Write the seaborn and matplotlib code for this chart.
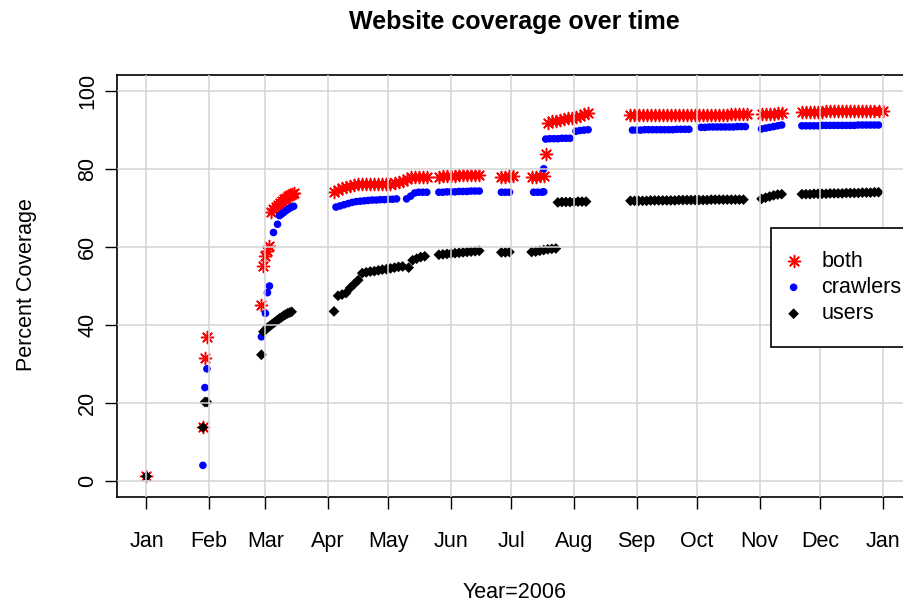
import seaborn as sns
import matplotlib.pyplot as plt

# day of year 2006 (0 = Jan 1) and percent coverage
both_days = [0, 28, 29, 30,
             57, 58, 59, 60, 61, 62, 63, 64, 65, 66, 67, 68, 69, 70, 71, 72, 73,
             93, 95, 97, 99, 101, 103, 105, 107, 109, 111, 113, 115, 117, 119, 121, 123,
             125, 127, 129, 131, 133, 135, 137, 139,
             145, 147, 149, 151, 153, 155, 157, 159, 161, 163, 165,
             176, 178, 180, 182, 191, 193, 195, 197, 198,
             199, 201, 203, 205, 207, 209, 211, 213, 215, 217, 219,
             240, 242, 244, 246, 248, 250, 252, 254, 256, 258, 260, 262, 264, 266, 268,
             270, 272, 274, 276, 278, 280, 282, 284, 286, 288, 290, 292, 294, 296, 298,
             305, 307, 309, 311, 313, 315,
             325, 327, 329, 331, 333, 335, 337, 339, 341, 343, 345, 347, 349, 351, 353,
             355, 357, 359, 361, 363, 365]
both_vals = [1.3, 14.0, 31.5, 37.0,
             45.2, 55.0, 57.6, 59.0, 60.3, 69.0, 69.7, 70.3, 70.8, 71.3, 71.8, 72.2, 72.6, 73.0, 73.3, 73.6, 73.8,
             74.0, 74.5, 75.0, 75.4, 75.7, 75.9, 76.0, 76.0, 76.0, 76.1, 76.1, 76.1, 76.1, 76.2, 76.2, 76.3,
             76.5, 76.8, 77.4, 77.9, 78.0, 78.0, 78.0, 78.0,
             78.0, 78.1, 78.1, 78.2, 78.2, 78.3, 78.3, 78.4, 78.4, 78.5, 78.5,
             78.0, 78.0, 78.1, 78.1, 78.0, 78.0, 78.1, 78.2, 83.8,
             91.8, 92.1, 92.3, 92.6, 92.8, 93.0, 93.1, 93.3, 93.6, 93.9, 94.2,
             93.7, 93.7, 93.7, 93.7, 93.7, 93.7, 93.7, 93.7, 93.7, 93.7, 93.7, 93.7, 93.7, 93.7, 93.7,
             93.7, 93.8, 93.8, 93.8, 93.8, 93.8, 93.8, 93.8, 93.8, 93.8, 93.9, 93.9, 93.9, 94.0, 94.0,
             94.0, 94.0, 94.1, 94.1, 94.2, 94.2,
             94.6, 94.6, 94.6, 94.6, 94.6, 94.6, 94.7, 94.7, 94.7, 94.7, 94.7, 94.7, 94.7, 94.7, 94.7,
             94.8, 94.8, 94.8, 94.8, 94.8, 94.8]

crawl_days = [0, 28, 29, 30,
              57, 59, 60, 61, 63, 65, 66, 67, 68, 69, 70, 71, 72, 73,
              94, 96, 98, 100, 102, 104, 106, 108, 110, 112, 114, 116, 118, 120, 122, 124,
              129, 131, 133, 135, 137, 139,
              145, 147, 149, 151, 153, 155, 157, 159, 161, 163, 165,
              176, 178, 180, 192, 194, 196, 197, 197,
              198, 200, 202, 204, 206, 208, 210, 213, 215, 217, 219,
              241, 243, 245, 247, 249, 251, 253, 255, 257, 259, 261, 263, 265, 267, 269,
              275, 277, 279, 281, 283, 285, 287, 289, 291, 293, 295, 297,
              305, 307, 309, 311, 313, 315,
              325, 327, 329, 331, 333, 335, 337, 339, 341, 343, 345, 347, 349, 351, 353,
              355, 357, 359, 361, 363]
crawl_vals = [1.3, 4.1, 24.0, 28.8,
              37.0, 43.0, 48.3, 50.0, 63.7, 65.8, 68.0, 68.4, 68.8, 69.2, 69.6, 69.9, 70.2, 70.4,
              70.2, 70.5, 70.8, 71.1, 71.4, 71.6, 71.7, 71.8, 71.9, 72.0, 72.0, 72.1, 72.1, 72.2, 72.2, 72.3,
              72.3, 73.0, 73.8, 74.0, 74.0, 74.0,
              74.0, 74.0, 74.1, 74.1, 74.1, 74.2, 74.2, 74.2, 74.3, 74.3, 74.3,
              74.0, 74.0, 74.0, 74.0, 74.0, 74.0, 74.1, 80.0,
              87.6, 87.7, 87.7, 87.7, 87.8, 87.8, 87.8, 89.6, 89.8, 89.9, 90.0,
              89.9, 89.9, 89.9, 90.0, 90.0, 90.0, 90.0, 90.0, 90.0, 90.0, 90.0, 90.1, 90.1, 90.1, 90.1,
              90.6, 90.6, 90.7, 90.7, 90.7, 90.7, 90.7, 90.7, 90.7, 90.8, 90.8, 90.8,
              90.2, 90.4, 90.6, 90.8, 91.0, 91.2,
              91.0, 91.0, 91.0, 91.0, 91.0, 91.1, 91.1, 91.1, 91.1, 91.1, 91.1, 91.1, 91.1, 91.1, 91.2,
              91.2, 91.2, 91.2, 91.2, 91.2]

user_days = [0, 28, 29, 30,
             57, 58, 59, 60, 61, 62, 63, 64, 65, 66, 67, 68, 69, 70, 71, 72,
             93, 95, 97, 99, 101, 103, 105,
             107, 109, 111, 113, 115, 117, 119, 121, 123, 125, 127, 130, 132, 134, 136, 138,
             145, 147, 149, 151, 153, 155, 157, 159, 161, 163, 165,
             176, 178, 180, 191, 193, 195, 197, 199, 201, 203,
             204, 206, 208, 210, 212, 214, 216, 218,
             240, 242, 244, 246, 248, 250, 252, 254, 256, 258, 260, 262, 264, 266, 268,
             270, 272, 274, 276, 278, 280, 282, 284, 286, 288, 290, 292, 294, 296,
             305, 307, 309, 311, 313, 315,
             325, 327, 329, 331, 333, 335, 337, 339, 341, 343, 345, 347, 349, 351, 353,
             355, 357, 359, 361, 363]
user_vals = [1.3, 13.8, 20.3, 20.3,
             32.4, 38.3, 38.8, 39.3, 39.7, 40.1, 40.5, 40.9, 41.3, 41.7, 42.0, 42.4, 42.7, 43.0, 43.2, 43.4,
             43.5, 47.5, 47.8, 48.2, 49.5, 50.5, 51.5,
             53.3, 53.5, 53.7, 53.8, 54.0, 54.2, 54.3, 54.5, 54.7, 54.9, 55.0, 54.7, 56.6, 57.0, 57.4, 57.6,
             58.0, 58.1, 58.2, 58.3, 58.4, 58.5, 58.6, 58.7, 58.8, 58.9, 59.0,
             58.6, 58.6, 58.7, 58.7, 58.8, 59.0, 59.2, 59.4, 59.5, 59.6,
             71.4, 71.5, 71.5, 71.5, 71.5, 71.6, 71.6, 71.6,
             71.8, 71.8, 71.8, 71.8, 71.8, 71.9, 71.9, 71.9, 71.9, 71.9, 71.9, 71.9, 72.0, 72.0, 72.0,
             72.0, 72.0, 72.0, 72.0, 72.0, 72.1, 72.1, 72.1, 72.1, 72.1, 72.1, 72.1, 72.1, 72.1,
             72.3, 72.6, 72.9, 73.2, 73.4, 73.5,
             73.5, 73.5, 73.5, 73.6, 73.6, 73.6, 73.6, 73.7, 73.7, 73.7, 73.7, 73.8, 73.8, 73.8, 73.8,
             73.9, 73.9, 73.9, 74.0, 74.0]

month_starts = [0, 31, 59, 90, 120, 151, 181, 212, 243, 273, 304, 334, 365]
month_labels = ["Jan", "Feb", "Mar", "Apr", "May", "Jun", "Jul", "Aug",
                "Sep", "Oct", "Nov", "Dec", "Jan"]
y_ticks = [0, 20, 40, 60, 80, 100]

sns.set_style("ticks")
plt.rcParams['font.family'] = ['Liberation Sans', 'DejaVu Sans']
plt.rcParams['text.color'] = 'black'
plt.rcParams['axes.labelcolor'] = 'black'
fs = 15.5

fig = plt.figure(figsize=(9.04, 6.04), dpi=100)
# plot box runs past the right edge of the picture, as in the original
ax = fig.add_axes([117 / 904, 107 / 604, 795 / 904, 422 / 604])

sns.scatterplot(x=both_days, y=both_vals, marker=(8, 2, 0), color="red", s=75,
                linewidth=1.1, label="both", ax=ax)
sns.scatterplot(x=crawl_days, y=crawl_vals, marker="o", color="blue", s=30,
                edgecolor="none", linewidth=0, label="crawlers", ax=ax)
sns.scatterplot(x=user_days, y=user_vals, marker="D", color="black", s=30,
                edgecolor="none", linewidth=0, label="users", ax=ax)

ax.set_xlim(-14.6, 379.6)
ax.set_ylim(-4, 104)
ax.set_xticks(month_starts)
ax.set_xticklabels(month_labels)
ax.set_yticks(y_ticks)
ax.tick_params(axis="both", direction="out", length=8.5, width=1.0, color="black",
               labelsize=fs, labelcolor="black")
ax.tick_params(axis="x", pad=16)
ax.tick_params(axis="y", pad=5, labelrotation=90)
plt.setp(ax.get_yticklabels(), va="center")

for side in ["left", "right", "top", "bottom"]:
    ax.spines[side].set_visible(True)
    ax.spines[side].set_color("black")
    ax.spines[side].set_linewidth(1.2)

# R's grid() is drawn after the points
ax.set_axisbelow(False)
ax.grid(True, color="#d3d3d3", linewidth=1.1)

ax.set_title("Website coverage over time", fontsize=18, fontweight="bold",
             y=(497 - 22) / 422, va="center", pad=0, color="black")
ax.set_xlabel("Year=2006", fontsize=fs, va="center")
ax.xaxis.set_label_coords(0.5, (497 - 592) / 422)
ax.set_ylabel("Percent Coverage", fontsize=fs, va="center")
ax.yaxis.set_label_coords((27 - 117) / 795, (497 - 285) / 422)

leg = ax.legend(loc="upper left", bbox_to_anchor=(771 / 904, 1 - 228 / 604),
                bbox_transform=fig.transFigure, fontsize=fs, frameon=True,
                fancybox=False, edgecolor="black", framealpha=1, borderpad=1.05,
                handlelength=0.0, handletextpad=1.3, labelspacing=0.25,
                borderaxespad=0, scatterpoints=1)
leg.get_frame().set_linewidth(1.2)

fig.savefig("out.png", dpi=100)
